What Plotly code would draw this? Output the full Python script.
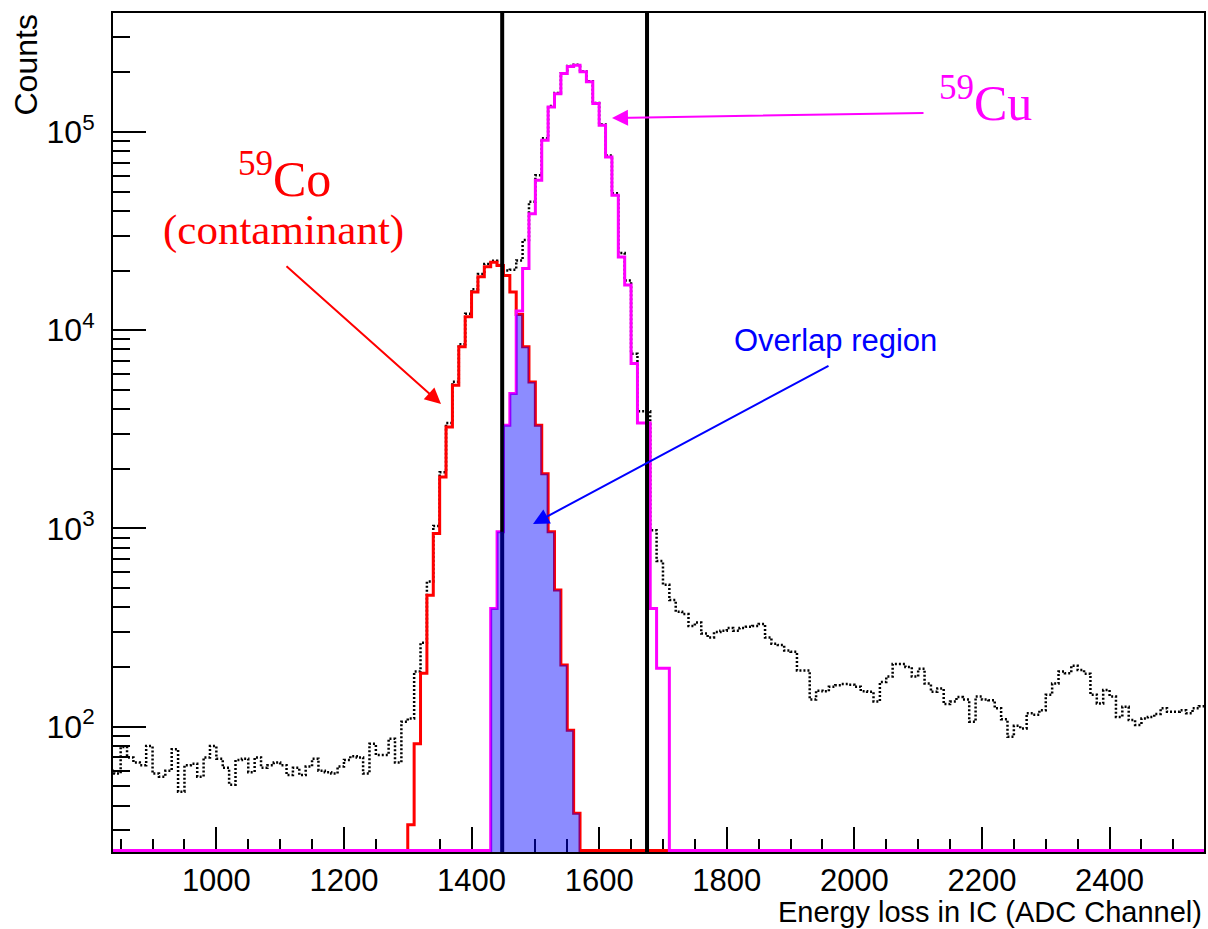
import numpy as np
import plotly.graph_objects as go

# ---------------- data ----------------
bin_width = 10
total_start = 830
total_counts = [
    60, 58, 79, 70, 66, 64, 80, 58, 56, 60,          # 830-920
    77, 47, 64, 65, 56, 70, 80, 69, 62, 51,          # 930-1020
    68, 69, 59, 70, 62, 64, 66, 64, 57, 62,          # 1030-1120
    57, 63, 69, 60, 59, 58, 63, 68, 71, 70,          # 1130-1220
    58, 82, 72, 72, 87, 66, 106, 110, 190, 265,      # 1230-1320
    540, 1030, 1920, 3400, 5500, 8500, 12100, 16100, 19200, 21600,   # 1330-1420
    22400, 21300, 20000, 20200, 22500, 28500, 44500, 60500, 93000, 135000,  # 1430-1520
    157000, 198000, 215000, 218000, 202000, 180000, 140000, 109000, 76000, 49000,  # 1530-1620
    24500, 17800, 7600, 3900, 3900, 980, 685, 520, 435, 380,         # 1630-1720
    370, 322, 335, 295, 282, 300, 305, 315, 305, 315,               # 1730-1820
    319, 322, 330, 282, 262, 258, 242, 239, 192, 192,               # 1830-1920
    137, 152, 151, 159, 162, 164, 163, 159, 151, 150,               # 1930-2020
    134, 168, 179, 207, 207, 200, 179, 196, 165, 150,               # 2030-2120
    156, 130, 134, 141, 137, 106, 142, 137, 136, 124,               # 2130-2220
    109, 89, 101, 98, 117, 115, 121, 145, 165, 190,                 # 2230-2320
    186, 203, 193, 185, 145, 131, 153, 142, 112, 126,               # 2330-2420
    108, 102, 110, 112, 116, 124, 119, 119, 121, 117,               # 2430-2520
    124, 127,                                                       # 2530-2540
]

co59_start = 1300
co59_counts = [32, 82, 186, 461, 944, 1820, 3250, 5280, 8240, 11700,
               15600, 18600, 20900, 22000, 21200, 18900, 15600, 12000, 8240, 5480,
               3320, 1890, 962, 489, 205, 96, 36.6]

cu59_start = 1430
cu59_counts = [395, 962, 3320, 4800, 12500, 20500, 38700, 57000, 90800, 133700,
               156000, 197000, 214000, 217000, 201000, 179000, 139000, 108000, 74800, 48000,
               23400, 16900, 6800, 3400, 3400, 395, 197, 197]

overlap_start = 1430
overlap_counts = [395, 962, 3320, 4800, 12000, 8240, 5480, 3320, 1890, 962,
                  489, 205, 96, 36.6]

cut_positions = [1448, 1675]

x_tick_vals = [1000, 1200, 1400, 1600, 1800, 2000, 2200, 2400]
y_tick_vals = [100, 1000, 10000, 100000]
y_tick_text = ["10<sup>2</sup>", "10<sup>3</sup>", "10<sup>4</sup>", "10<sup>5</sup>"]
y_minor_vals = [30, 40, 50, 60, 70, 80, 90,
                200, 300, 400, 500, 600, 700, 800, 900,
                2000, 3000, 4000, 5000, 6000, 7000, 8000, 9000,
                20000, 30000, 40000, 50000, 60000, 70000, 80000, 90000,
                200000, 300000]

x_range = [838, 2548]
y_log_range = [1.368, 5.6]

# ---------------- helpers ----------------
n_bins = len(total_counts)
edges = total_start + bin_width * np.arange(n_bins + 1)
floor_val = 10 ** (y_log_range[0] + 0.008)


def full_hist(start, counts):
    vals = np.full(n_bins, floor_val, dtype=float)
    i0 = (start - total_start) // bin_width
    vals[i0:i0 + len(counts)] = counts
    return vals


def step_xy(vals):
    return edges, np.append(vals, vals[-1])


fig = go.Figure()

# total (dotted black)
tx, ty = step_xy(np.array(total_counts, dtype=float))
fig.add_trace(go.Scatter(x=tx, y=ty, mode="lines", line_shape="hv",
                         line=dict(color="black", width=2.5, dash="2px,2px"),
                         hoverinfo="skip", showlegend=False))

# 59Co (red)
rx, ry = step_xy(full_hist(co59_start, co59_counts))
fig.add_trace(go.Scatter(x=rx, y=ry, mode="lines", line_shape="hv",
                         line=dict(color="#ff0000", width=3),
                         hoverinfo="skip", showlegend=False))

# 59Cu (magenta)
mx, my = step_xy(full_hist(cu59_start, cu59_counts))
fig.add_trace(go.Scatter(x=mx, y=my, mode="lines", line_shape="hv",
                         line=dict(color="#ff00ff", width=3),
                         hoverinfo="skip", showlegend=False))

# cut lines
for c in cut_positions:
    fig.add_trace(go.Scatter(x=[c, c], y=[10 ** y_log_range[0], 10 ** y_log_range[1]],
                             mode="lines", line=dict(color="black", width=4),
                             hoverinfo="skip", showlegend=False))

# overlap region (translucent blue fill)
ov_edges = overlap_start + bin_width * np.arange(len(overlap_counts) + 1)
px, py = [], []
for i, v in enumerate(overlap_counts):
    px += [ov_edges[i], ov_edges[i + 1]]
    py += [v, v]
px += [ov_edges[-1], ov_edges[0]]
py += [10 ** (y_log_range[0] - 0.05)] * 2
fig.add_trace(go.Scatter(x=px, y=py, mode="lines", fill="toself",
                         fillcolor="rgba(0,0,255,0.45)", line=dict(width=0),
                         hoverinfo="skip", showlegend=False))

# ---------------- layout ----------------
L, R, T, B = 113, 4, 13, 77
W, H = 1208, 929
pw, ph = W - L - R, H - T - B


def pxx(x):
    return (x - L) / pw


def pxy(y):
    return (H - B - y) / ph


sans = "Liberation Sans, Arial, Helvetica, sans-serif"
serif = "Liberation Serif, Times New Roman, serif"

fig.update_layout(
    width=W, height=H,
    margin=dict(l=L, r=R, t=T, b=B),
    paper_bgcolor="white", plot_bgcolor="white",
    showlegend=False,
    xaxis=dict(range=x_range, tickmode="array", tickvals=x_tick_vals,
               ticks="inside", ticklen=25, tickwidth=2, tickcolor="black",
               showline=True, linewidth=2, linecolor="black", mirror=True,
               showgrid=False, zeroline=False, layer="below traces", automargin=False,
               tickfont=dict(family=sans, size=31, color="black"),
               ticklabelstandoff=0,
               minor=dict(tickmode="linear", tick0=0, dtick=50, ticks="inside",
                          ticklen=13, tickwidth=2, tickcolor="black", showgrid=False)),
    yaxis=dict(type="log", range=y_log_range, tickmode="array", tickvals=y_tick_vals,
               ticktext=y_tick_text,
               ticks="inside", ticklen=33, tickwidth=2, tickcolor="black",
               showline=True, linewidth=2, linecolor="black", mirror=True,
               showgrid=False, zeroline=False, layer="below traces", automargin=False,
               tickfont=dict(family=sans, size=32, color="black"),
               ticklabelstandoff=10,
               minor=dict(tickmode="array", tickvals=y_minor_vals, ticks="inside",
                          ticklen=17, tickwidth=2, tickcolor="black", showgrid=False)),
)

annotations = [
    dict(text="Counts", textangle=-90, x=pxx(25), y=1, xanchor="center", yanchor="top",
         font=dict(family=sans, size=32, color="black")),
    dict(text="Energy loss in IC (ADC Channel)", x=1, y=pxy(912), xanchor="right",
         yanchor="middle", font=dict(family=sans, size=29, color="black")),
    dict(text="<sup>59</sup>Co", x=pxx(284), y=pxy(176), xanchor="center", yanchor="middle",
         font=dict(family=serif, size=50, color="#ff0000")),
    dict(text="(contaminant)", x=pxx(283), y=pxy(230), xanchor="center", yanchor="middle",
         font=dict(family=serif, size=43, color="#ff0000")),
    dict(text="<sup>59</sup>Cu", x=pxx(985), y=pxy(99), xanchor="center", yanchor="middle",
         font=dict(family=serif, size=50, color="#ff00ff")),
    dict(text="Overlap region", x=pxx(835), y=pxy(340), xanchor="center", yanchor="middle",
         font=dict(family=sans, size=31, color="#0000ff")),
]
for a in annotations:
    a.update(xref="paper", yref="paper", showarrow=False)

arrows = [
    dict(x=pxx(441), y=pxy(404), ax=-156, ay=-139, arrowcolor="#ff0000"),
    dict(x=pxx(612), y=pxy(118), ax=313, ay=-5, arrowcolor="#ff00ff"),
    dict(x=pxx(533), y=pxy(524), ax=297, ay=-159, arrowcolor="#0000ff"),
]
for a in arrows:
    a.update(xref="paper", yref="paper", text="", showarrow=True, arrowhead=2,
             arrowwidth=2, arrowsize=1.6, standoff=0)

fig.update_layout(annotations=annotations + arrows)

fig.write_html("out.html")
